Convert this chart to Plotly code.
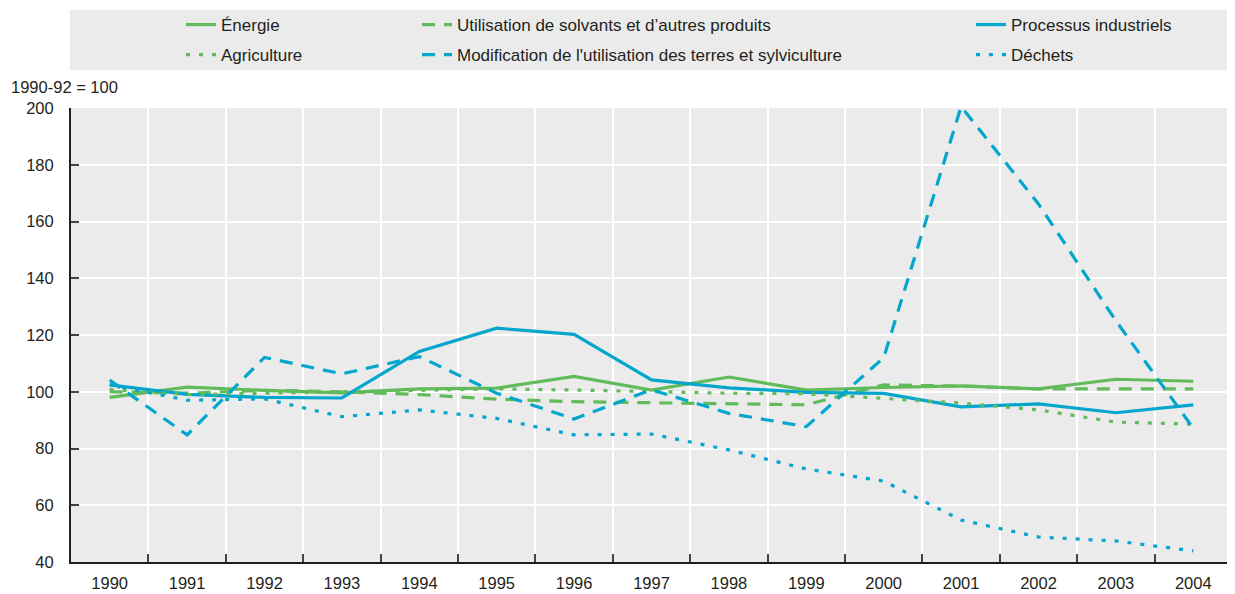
import plotly.graph_objects as go

years = [str(y) for y in range(1990, 2005)]
energie = [98, 101.6, 100.5, 99.6, 101, 101.3, 105.4, 100.6, 105.2, 100.6, 101.5, 102.1, 101, 104.4, 103.7]
solvants = [100, 99.5, 100.5, 100, 99, 97.4, 96.5, 96.2, 95.8, 95.4, 102.4, 102, 101, 101, 101]
agriculture = [100.8, 99, 99.5, 100, 100.3, 101, 100.6, 100, 99.5, 99.3, 97.7, 96, 93.6, 89.3, 88.6]
processus = [102.4, 99.1, 98, 97.8, 114.2, 122.4, 120.2, 104.2, 101.4, 99.8, 99.4, 94.7, 95.7, 92.6, 95.4]
terres = [104.1, 84.8, 112.1, 106.3, 112.4, 99.5, 90.4, 100.7, 92.4, 87.7, 112, 200.5, 166.2, 125, 87.1]
dechets = [102.5, 97, 97.5, 91.2, 93.6, 90.6, 84.8, 85.1, 79.5, 72.8, 68.5, 54.8, 48.8, 47.4, 43.9]

GREEN = "#62BB5A"
BLUE = "#04A6CD"
FONT = "Liberation Sans, Arial, sans-serif"
TXT = "#231F20"
DASH = "13px,9px"
DOT = "4px,9px"

series = [
    ("Énergie", energie, GREEN, "solid", "legend"),
    ("Utilisation de solvants et d’autres produits", solvants, GREEN, DASH, "legend2"),
    ("Processus industriels", processus, BLUE, "solid", "legend3"),
    ("Agriculture", agriculture, GREEN, DOT, "legend4"),
    ("Modification de l'utilisation des terres et sylviculture", terres, BLUE, DASH, "legend5"),
    ("Déchets", dechets, BLUE, DOT, "legend6"),
]

fig = go.Figure()
for name, vals, col, dash, lg in series:
    fig.add_trace(go.Scatter(x=years, y=vals, name=name, mode="lines",
                             line=dict(color=col, width=3.2, dash=dash),
                             legend=lg))

# page body has an 8px margin: work in reference-screen pixels, offset by 8
OFF = 8
W, H = 1235 - OFF, 594 - OFF
PL, PR, PT, PB = 71, 1232, 108, 562  # plot area in screen pixels
L, R, T, B = PL - OFF, W - (PR - OFF), PT - OFF, H - (PB - OFF)
pw, ph = W - L - R, H - T - B

def px2x(px):
    return (px - PL) / pw

def py2y(py):
    return (PB - py) / ph

text_x = [221, 457, 1011, 221, 457, 1011]
row_y = [25, 25, 25, 55, 55, 55]
legs = {}
for i, (tx, ty) in enumerate(zip(text_x, row_y)):
    key = "legend" if i == 0 else f"legend{i+1}"
    legs[key] = dict(x=px2x(tx - 40), y=py2y(ty), xanchor="left", yanchor="middle",
                     bgcolor="rgba(0,0,0,0)", borderwidth=0,
                     font=dict(family=FONT, size=17, color=TXT),
                     itemwidth=30)

fig.update_layout(
    width=W, height=H,
    margin=dict(l=L, r=R, t=T, b=B, autoexpand=False),
    paper_bgcolor="white",
    plot_bgcolor="#EBEBEB",
    font=dict(family=FONT, size=16, color=TXT),
    showlegend=True,
    **legs,
    xaxis=dict(type="category", range=[-0.5, 14.5], tickson="boundaries",
               showgrid=True, gridcolor="white", gridwidth=2,
               ticks="inside", ticklen=8, tickcolor="#444", tickwidth=1.5,
               showline=True, linecolor="#231F20", linewidth=2,
               ticklabelstandoff=5,
               tickfont=dict(family=FONT, size=16.5, color=TXT), zeroline=False),
    yaxis=dict(range=[40, 200], tickvals=[40, 60, 80, 100, 120, 140, 160, 180, 200],
               showgrid=True, gridcolor="white", gridwidth=2,
               ticks="inside", ticklen=8, tickcolor="#444", tickwidth=1.5,
               showline=True, linecolor="#231F20", linewidth=2,
               ticklabelstandoff=12,
               tickfont=dict(family=FONT, size=16.5, color=TXT), zeroline=False),
    shapes=[dict(type="rect", xref="paper", yref="paper",
                 x0=px2x(70), x1=px2x(1233), y0=py2y(70), y1=py2y(10),
                 fillcolor="#EBEBEB", line=dict(width=0), layer="below")],
    annotations=[dict(text="1990-92 = 100", xref="paper", yref="paper",
                      x=px2x(9), y=py2y(87), xanchor="left", yanchor="middle",
                      showarrow=False, font=dict(family=FONT, size=16.5, color=TXT))],
)

fig.write_html("out.html")
